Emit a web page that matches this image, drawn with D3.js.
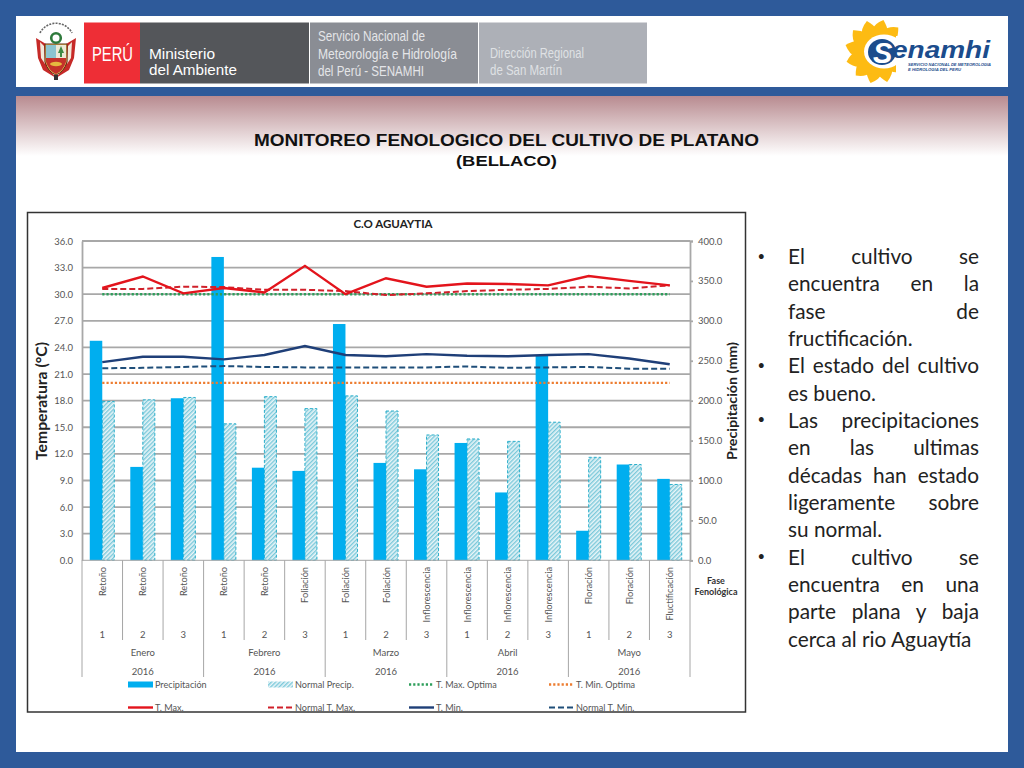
<!DOCTYPE html>
<html><head><meta charset="utf-8">
<script src="https://cdnjs.cloudflare.com/ajax/libs/d3/7.8.5/d3.min.js"></script>
<style>html,body{margin:0;padding:0;background:#2E5A9A;overflow:hidden}svg{display:block}</style>
</head><body><svg id="c" width="1024" height="768"></svg>
<script>
const phases=["Retoño","Retoño","Retoño","Retoño","Retoño","Foliación","Foliación","Foliación","Inflorescencia","Inflorescencia","Inflorescencia","Inflorescencia","Floración","Floración","Fluctificación"];
const decades=[1,2,3,1,2,3,1,2,3,1,2,3,1,2,3];
const months=["Enero","Febrero","Marzo","Abril","Mayo"];
const years=[2016,2016,2016,2016,2016];
const precip=[275,117,203,380,116,112,296,122,114,147,85,257,37,120,102];
const normalPrecip=[199,201,204,171,205,190,206,187,157,152,149,173,129,120,95];
const tMax=[30.7,32.0,30.1,30.7,30.2,33.2,30.0,31.8,30.85,31.2,31.15,31.0,32.05,31.5,31.0];
const normalTMax=[30.6,30.6,30.85,30.8,30.5,30.5,30.35,29.9,30.1,30.35,30.5,30.6,30.85,30.65,31.0];
const tMin=[22.35,22.95,22.95,22.65,23.15,24.15,23.15,23.0,23.25,23.07,23.0,23.15,23.25,22.75,22.1];
const normalTMin=[21.65,21.7,21.8,21.9,21.8,21.75,21.75,21.75,21.75,21.85,21.7,21.75,21.8,21.6,21.6];
const tMaxOptima=phases.map(()=>30);
const tMinOptima=phases.map(()=>20);
const tempTicks=[0,3,6,9,12,15,18,21,24,27,30,33,36];
const precipTicks=[0,50,100,150,200,250,300,350,400];
const bullets=[
 [["El cultivo se",1],["encuentra en la",1],["fase de",1],["fructificación.",0]],
 [["El estado del cultivo",1],["es bueno.",0]],
 [["Las precipitaciones",1],["en las ultimas",1],["décadas han estado",1],["ligeramente sobre",1],["su normal.",0]],
 [["El cultivo se",1],["encuentra en una",1],["parte plana y baja",1],["cerca al rio Aguaytía",0]]
];

const svg=d3.select("#c");
const defs=svg.append("defs");
const grad=defs.append("linearGradient").attr("id","band").attr("x1",0).attr("x2",0).attr("y1",0).attr("y2",1);
grad.append("stop").attr("offset","0%").attr("stop-color","#B88B90");
grad.append("stop").attr("offset","100%").attr("stop-color","#ffffff");
const pat=defs.append("pattern").attr("id","hatch").attr("width",3).attr("height",3).attr("patternUnits","userSpaceOnUse").attr("patternTransform","rotate(-45)");
pat.append("rect").attr("width",3).attr("height",3).attr("fill","#e8f5f8");
pat.append("rect").attr("width",3).attr("height",1.4).attr("fill","#7cc9da");

// Page frame
svg.append("rect").attr("width",1024).attr("height",768).attr("fill","#2E5A9A");
svg.append("rect").attr("x",16).attr("y",16).attr("width",992).attr("height",71).attr("fill","#fff");
svg.append("rect").attr("x",16).attr("y",96).attr("width",992).attr("height",656).attr("fill","#fff");
svg.append("rect").attr("x",16).attr("y",96).attr("width",992).attr("height",60).attr("fill","url(#band)");

// Header bands
const hdr=svg.append("g");
[[84,56,"#EE2E36"],[140,169,"#54565A"],[310,168,"#8A8D94"],[479,168,"#ADB0B7"]].forEach(b=>
 hdr.append("rect").attr("x",b[0]).attr("y",22.5).attr("width",b[1]).attr("height",61).attr("fill",b[2]));
const NARROW="Liberation Sans Narrow, Liberation Sans";
function ht(x,y,s,size,fill,len,fam){const t=hdr.append("text").attr("x",x).attr("y",y).text(s).attr("font-size",size).attr("fill",fill).attr("font-family",fam||"Liberation Sans");
 if(len)t.attr("textLength",len).attr("lengthAdjust","spacingAndGlyphs");return t;}
ht(92,60.5,"PERÚ",20,"#fff",41,NARROW);
ht(149,58.5,"Ministerio",15,"#fff",66);
ht(149,74.5,"del Ambiente",15,"#fff",88);
ht(318,41,"Servicio Nacional de",15,"#e4e5e8",107,NARROW);
ht(318,58.5,"Meteorología e Hidrología",15,"#e4e5e8",139,NARROW);
ht(318,76,"del Perú - SENAMHI",15,"#e4e5e8",106,NARROW);
ht(490,57.5,"Dirección Regional",14,"#dfe1e4",94,NARROW);
ht(490,75,"de San Martín",14,"#dfe1e4",72,NARROW);

// Coat of arms
const crest=svg.append("g");
crest.append("path").attr("d","M36 38 L46 44 L47 66 L56 78 L43 70 L38 58Z").attr("fill","#C62A28");
crest.append("path").attr("d","M76 38 L66 44 L65 66 L56 78 L69 70 L74 58Z").attr("fill","#C62A28");
crest.append("path").attr("d","M40 42 L44 46 L45 64 L41 58Z").attr("fill","#F1E9DA");
crest.append("path").attr("d","M72 42 L68 46 L67 64 L71 58Z").attr("fill","#F1E9DA");
crest.append("path").attr("d","M45 44 H67 V62 Q64 72 56 75 Q48 72 45 62Z").attr("fill","#E9C75A").attr("stroke","#5c2a14").attr("stroke-width",1);
crest.append("rect").attr("x",46).attr("y",45).attr("width",10).attr("height",13).attr("fill","#8CC4CF");
crest.append("rect").attr("x",56).attr("y",45).attr("width",10).attr("height",13).attr("fill","#EDE9D6");
crest.append("path").attr("d","M61 46 L64 53 H62 V57 H60 V53 H58Z").attr("fill","#3E8A45");
crest.append("path").attr("d","M46 58 H66 V62 Q63 71 56 74 Q49 71 46 62Z").attr("fill","#C4322A");
crest.append("ellipse").attr("cx",56).attr("cy",64).attr("rx",6).attr("ry",2.2).attr("fill","#E5B93F");
crest.append("circle").attr("cx",56).attr("cy",38).attr("r",4.8).attr("fill","none").attr("stroke","#2F7A3C").attr("stroke-width",2.6);
crest.append("path").attr("d","M40 33 A18 18 0 0 1 72 33").attr("fill","none").attr("stroke","#666").attr("stroke-width",1.6).attr("stroke-dasharray","2 1.2");
crest.append("rect").attr("x",54).attr("y",75).attr("width",4).attr("height",5).attr("fill","#333");

// Sun logo
const sun=svg.append("g").attr("transform","translate(877,51.5)");
d3.range(12).forEach(i=>{
 sun.append("path").attr("transform",`rotate(${i*30+8})`).attr("d","M-8 -20 Q-7 -27 2 -32 Q7 -26 8 -20Z").attr("fill","#FDBB13");
});
sun.append("circle").attr("r",23).attr("fill","#FDBB13");
sun.append("ellipse").attr("cx",7).attr("cy",0).attr("rx",20).attr("ry",17).attr("fill","#fff");
svg.append("rect").attr("x",896).attr("y",36).attr("width",98).attr("height",37).attr("fill","#fff");
svg.append("ellipse").attr("cx",882).attr("cy",52).attr("rx",14).attr("ry",13).attr("fill","#1B4C8C");
svg.append("text").attr("x",873).attr("y",63).text("S").attr("font-family","Liberation Sans").attr("font-weight","bold").attr("font-style","italic").attr("font-size",29).attr("fill","#fff");
svg.append("text").attr("x",892).attr("y",57.5).text("enamhi").attr("font-family","Liberation Sans").attr("font-weight","bold").attr("font-style","italic").attr("font-size",24).attr("fill","#1B4C8C").attr("textLength",98).attr("lengthAdjust","spacingAndGlyphs");
svg.append("text").attr("x",908).attr("y",65.5).text("SERVICIO NACIONAL DE METEOROLOGIA").attr("font-family","Liberation Sans").attr("font-weight","bold").attr("font-style","italic").attr("font-size",4.4).attr("fill","#1B4C8C").attr("textLength",83).attr("lengthAdjust","spacingAndGlyphs");
svg.append("text").attr("x",908).attr("y",70.7).text("E HIDROLOGIA DEL PERU").attr("font-family","Liberation Sans").attr("font-weight","bold").attr("font-style","italic").attr("font-size",4.4).attr("fill","#1B4C8C").attr("textLength",53).attr("lengthAdjust","spacingAndGlyphs");

// Slide title
svg.append("text").attr("x",254).attr("y",146).text("MONITOREO FENOLOGICO DEL CULTIVO DE PLATANO").attr("font-family","Liberation Sans").attr("font-weight","bold").attr("font-size",16.5).attr("fill","#111").attr("textLength",505).attr("lengthAdjust","spacingAndGlyphs");
svg.append("text").attr("x",456).attr("y",166).text("(BELLACO)").attr("font-family","Liberation Sans").attr("font-weight","bold").attr("font-size",15.5).attr("fill","#111").attr("textLength",101).attr("lengthAdjust","spacingAndGlyphs");

// Chart box
svg.append("rect").attr("x",27.5).attr("y",212.5).attr("width",718).attr("height",499.5).attr("fill","#fff").attr("stroke","#333").attr("stroke-width",1.5);
const F="Lato", TC="#555";
svg.append("text").attr("x",393).attr("y",228).attr("text-anchor","middle").text("C.O AGUAYTIA").attr("font-family",F).attr("font-weight","bold").attr("font-size",11.5).attr("fill","#222");

const pL=82,pR=690,pT=241,pB=560.3;
const x=d3.scaleBand().domain(d3.range(phases.length)).range([pL,pR]);
const yT=d3.scaleLinear().domain([0,36]).range([pB,pT]);
const yP=d3.scaleLinear().domain([0,400]).range([pB,pT]);

// Grid
svg.append("g").selectAll("line").data(tempTicks.slice(1)).join("line")
 .attr("x1",pL).attr("x2",pR).attr("y1",d=>yT(d)).attr("y2",d=>yT(d)).attr("stroke","#A8A8A8").attr("stroke-width",1.8);

// Axes
const axL=svg.append("g").attr("transform",`translate(${pL},0)`).call(d3.axisLeft(yT).tickValues(tempTicks).tickFormat(d=>d.toFixed(1)).tickSize(0).tickPadding(9));
const axR=svg.append("g").attr("transform",`translate(${pR},0)`).call(d3.axisRight(yP).tickValues(precipTicks).tickFormat(d=>d.toFixed(1)).tickSize(3).tickPadding(5));
[axL,axR].forEach(a=>{a.selectAll("path.domain,line").attr("stroke","#A8A8A8").attr("stroke-width",1.8);
 a.selectAll("text").attr("font-family",F).attr("font-size",9.5).attr("fill",TC);});

// Bars
const bw=x.bandwidth();
svg.append("g").selectAll("rect").data(normalPrecip).join("rect")
 .attr("x",(d,i)=>x(i)+bw/2).attr("width",12).attr("y",d=>yP(d)).attr("height",d=>pB-yP(d))
 .attr("fill","url(#hatch)").attr("stroke","#2BAFCB").attr("stroke-width",1).attr("stroke-dasharray","3 2");
svg.append("g").selectAll("rect").data(precip).join("rect")
 .attr("x",(d,i)=>x(i)+bw/2-12.5).attr("width",12.5).attr("y",d=>yP(d)).attr("height",d=>pB-yP(d)).attr("fill","#00AEEF");

// Lines
const line=d3.line().x((d,i)=>x(i)+bw/2).y(d=>yT(d));
const series=[
 {v:tMaxOptima,c:"#2E9E5B",w:2.4,dash:"2.2 2"},
 {v:tMinOptima,c:"#ED7D31",w:2.4,dash:"2.2 2"},
 {v:normalTMax,c:"#D0202A",w:2,dash:"6 3"},
 {v:normalTMin,c:"#1F4E79",w:2,dash:"6 3"},
 {v:tMax,c:"#E3141C",w:2.4},
 {v:tMin,c:"#1F3F78",w:2.4}];
svg.append("g").selectAll("path").data(series).join("path").attr("d",d=>line(d.v)).attr("fill","none")
 .attr("stroke",d=>d.c).attr("stroke-width",d=>d.w).attr("stroke-dasharray",d=>d.dash||null);

// Multi-level category axis
const cat=svg.append("g");
const sep="#A6A6A6";
d3.range(phases.length+1).forEach(i=>{
 const X=i<phases.length?x(i):pR, major=i%3===0;
 cat.append("line").attr("x1",X).attr("x2",X).attr("y1",pB).attr("y2",major?677:640).attr("stroke",sep).attr("stroke-width",1);
});
cat.append("line").attr("x1",pL).attr("x2",pR).attr("y1",pB).attr("y2",pB).attr("stroke",sep).attr("stroke-width",1);
cat.selectAll("text.ph").data(phases).join("text").attr("class","ph").text(d=>d)
 .attr("transform",(d,i)=>`translate(${x(i)+bw/2+3.5},567) rotate(-90)`).attr("text-anchor","end")
 .attr("font-family",F).attr("font-size",9.2).attr("fill",TC);
cat.selectAll("text.de").data(decades).join("text").attr("class","de").text(d=>d)
 .attr("x",(d,i)=>x(i)+bw/2).attr("y",637.5).attr("text-anchor","middle").attr("font-family",F).attr("font-size",9.5).attr("fill",TC);
cat.selectAll("text.mo").data(months).join("text").attr("class","mo").text(d=>d)
 .attr("x",(d,i)=>x(i*3+1)+bw/2).attr("y",656).attr("text-anchor","middle").attr("font-family",F).attr("font-size",9.5).attr("fill",TC);
cat.selectAll("text.yr").data(years).join("text").attr("class","yr").text(d=>d)
 .attr("x",(d,i)=>x(i*3+1)+bw/2).attr("y",675).attr("text-anchor","middle").attr("font-family",F).attr("font-size",9.5).attr("fill",TC);

// Axis titles
svg.append("text").attr("transform","translate(47,460) rotate(-90)").text("Temperatura (°C)").attr("font-family",F).attr("font-weight","bold").attr("font-size",15).attr("fill","#222").attr("textLength",118).attr("lengthAdjust","spacingAndGlyphs");
svg.append("text").attr("transform","translate(737,460) rotate(-90)").text("Precipitación (mm)").attr("font-family",F).attr("font-weight","bold").attr("font-size",13.5).attr("fill","#222").attr("textLength",118).attr("lengthAdjust","spacingAndGlyphs");
svg.append("text").attr("x",716).attr("y",584).attr("text-anchor","middle").text("Fase").attr("font-family",F).attr("font-weight","bold").attr("font-size",9).attr("fill","#333");
svg.append("text").attr("x",716).attr("y",595).attr("text-anchor","middle").text("Fenológica").attr("font-family",F).attr("font-weight","bold").attr("font-size",9).attr("fill","#333");

// Legend
const legend=[
 {n:"Precipitación",x:128,y:684.5,t:"bar"},
 {n:"Normal Precip.",x:268,y:684.5,t:"hatch"},
 {n:"T. Max. Optima",x:409,y:684.5,c:"#2E9E5B",dash:"2.2 2",w:2.4},
 {n:"T. Min. Optima",x:549,y:684.5,c:"#ED7D31",dash:"2.2 2",w:2.4},
 {n:"T. Max.",x:128,y:707.5,c:"#E3141C",w:2.4},
 {n:"Normal T. Max.",x:268,y:707.5,c:"#D0202A",dash:"6 3",w:2},
 {n:"T. Min.",x:409,y:707.5,c:"#1F3F78",w:2.4},
 {n:"Normal T. Min.",x:549,y:707.5,c:"#1F4E79",dash:"6 3",w:2}];
const lg=svg.append("g").selectAll("g").data(legend).join("g").attr("transform",d=>`translate(${d.x},${d.y})`);
lg.filter(d=>d.t).append("rect").attr("y",-3).attr("width",25).attr("height",6).attr("fill",d=>d.t==="bar"?"#00AEEF":"url(#hatch)");
lg.filter(d=>!d.t).append("line").attr("x2",25).attr("stroke",d=>d.c).attr("stroke-width",d=>d.w).attr("stroke-dasharray",d=>d.dash||null);
lg.append("text").attr("x",27).attr("y",3).text(d=>d.n).attr("font-family",F).attr("font-size",9.1).attr("fill",TC);

// Bullet text
const tx=788,tw=191;let lineNo=0;
const bt=svg.append("g").attr("font-family",F).attr("font-size",20.8).attr("fill","#222");
bullets.forEach(group=>{
 group.forEach((l,j)=>{
  const y=264+lineNo*27.33;
  if(j===0)bt.append("text").attr("x",757.5).attr("y",y-3.5).attr("font-size",13).text("•");
  const t=bt.append("text").attr("x",tx).attr("y",y).text(l[0]);
  if(l[1]){const gaps=l[0].split(" ").length-1;const extra=(tw-t.node().getComputedTextLength())/gaps;t.attr("word-spacing",extra);}
  lineNo++;
 });
});
</script></body></html>
